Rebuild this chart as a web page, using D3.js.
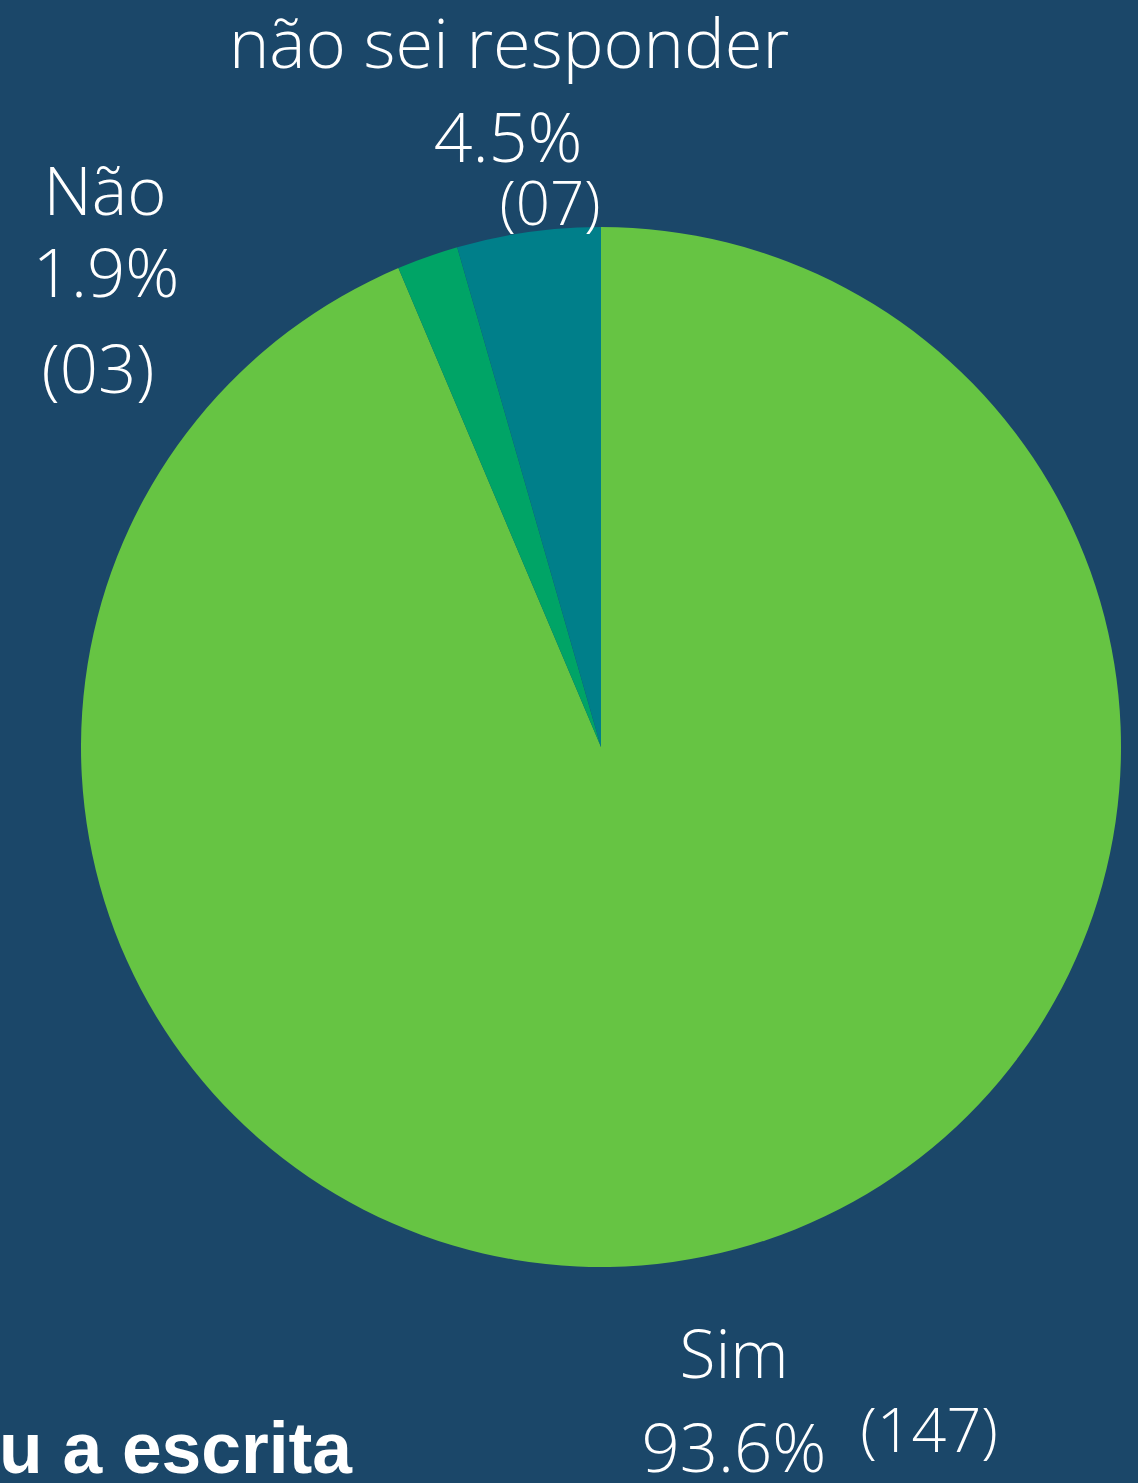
<!DOCTYPE html>
<html>
<head>
<meta charset="utf-8">
<script src="https://cdn.jsdelivr.net/npm/d3@7"></script>
<style>
  html, body { margin: 0; padding: 0; background: #1b4769; }
  svg { display: block; }
</style>
</head>
<body>
<svg id="chart" width="1138" height="1483"></svg>
<script>
// Answers, counts and shares
const categories = ["Sim", "Não", "não sei responder"];
const counts = [147, 3, 7];
const shares = ["93.6%", "1.9%", "4.5%"];
const countLabels = ["(147)", "(03)", "(07)"];
const colors = ["#66c443", "#00a466", "#007f8a"];

const W = 1138, H = 1483;
const cx = 601, cy = 747, R = 520;

const svg = d3.select("#chart");
svg.append("rect").attr("width", W).attr("height", H).attr("fill", "#1b4769");

const pie = d3.pie().sort(null).value(d => d.value);
const arcs = pie(categories.map((c, i) => ({ name: c, value: counts[i], color: colors[i] })));
const arc = d3.arc().innerRadius(0).outerRadius(R);

svg.append("g")
  .attr("transform", `translate(${cx},${cy})`)
  .selectAll("path")
  .data(arcs)
  .join("path")
  .attr("d", arc)
  .attr("fill", d => d.data.color);

// Label lines: [text, x, baseline y, size, anchor]
const labelFont = "'Open Sans', 'Noto Sans', sans-serif";
const labelLines = [
  [categories[2], 509, 68, 68.5, "middle"],
  [shares[2], 508, 162, 68, "middle"],
  [countLabels[2], 550, 225, 60, "middle"],
  [categories[1], 105, 215, 67, "middle"],
  [shares[1], 106, 297, 67, "middle"],
  [countLabels[1], 98, 393, 67, "middle"],
  [categories[0], 734, 1378, 66, "middle"],
  [shares[0], 734, 1472, 67, "middle"],
  [countLabels[0], 929, 1452, 61, "middle"]
];

svg.append("g")
  .selectAll("text")
  .data(labelLines)
  .join("text")
  .attr("x", d => d[1])
  .attr("y", d => d[2])
  .attr("font-size", d => d[3])
  .attr("text-anchor", d => d[4])
  .attr("font-family", labelFont)
  .attr("font-weight", 300)
  .attr("fill", "#ffffff")
  .text(d => d[0]);

// Title fragment along the bottom edge
svg.append("text")
  .attr("x", -1)
  .attr("y", 1473)
  .attr("font-family", "'Liberation Sans', Arial, sans-serif")
  .attr("font-weight", 700)
  .attr("font-size", 73)
  .attr("fill", "#ffffff")
  .attr("textLength", 353)
  .attr("lengthAdjust", "spacingAndGlyphs")
  .text("u a escrita");
</script>
</body>
</html>
